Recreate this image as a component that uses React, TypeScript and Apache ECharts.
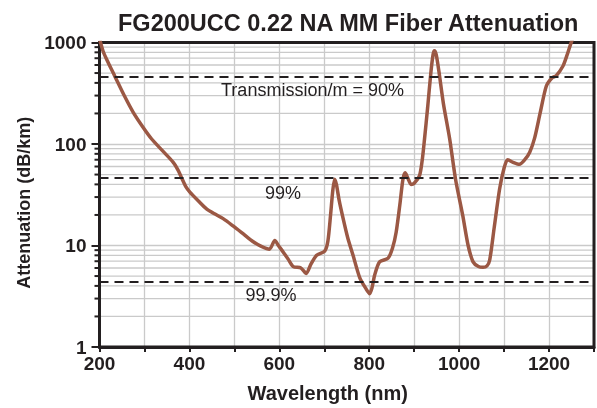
import React, { useEffect, useRef } from 'react';
import * as echarts from 'echarts';

const TITLE = 'FG200UCC 0.22 NA MM Fiber Attenuation';
const X_NAME = 'Wavelength (nm)';
const Y_NAME = 'Attenuation (dB/km)';
const X_MIN = 200;
const X_MAX = 1300;
const X_INTERVAL = 100;
const Y_MIN = 1;
const Y_MAX = 1000;

const wavelengths = [
  201, 208, 216, 234, 255, 275, 296, 316, 340, 364, 375, 383, 392, 401, 420, 438, 456, 475, 497, 520,
  542, 560, 578, 590, 598, 608, 620, 631, 648, 660, 670, 683, 701, 708, 714, 719, 723, 727, 733, 742,
  752, 764, 779, 792, 801, 806, 812, 823, 842, 852, 860, 868, 875, 880, 886, 893, 900, 912, 918, 923,
  930, 937, 942, 945, 949, 955, 965, 979, 992, 1008, 1020, 1031, 1043, 1053, 1062, 1068, 1078, 1090, 1100, 1108,
  1120, 1134, 1146, 1157, 1168, 1180, 1194, 1207, 1216, 1231, 1240, 1249, 1255,
];
const attenuation = [
  1050, 820, 680, 466, 300, 205, 148, 112, 86, 66, 55, 46, 38, 33.6, 27.5, 23, 20.5, 18.4, 15.6, 13,
  10.9, 9.8, 9.2, 11.2, 10, 8.7, 7.3, 6.2, 6.0, 5.3, 6.5, 8.0, 8.8, 11, 20, 35, 45, 40, 28, 18.4,
  12, 8.0, 4.8, 3.8, 3.35, 3.8, 5.1, 6.9, 7.5, 9.5, 13.6, 25, 45, 52, 46, 40, 41, 49, 70, 112,
  230, 500, 760, 830, 760, 520, 250, 112, 45, 19.8, 10, 6.9, 6.2, 6.1, 6.3, 7.2, 15, 36, 58, 70,
  66, 63, 70, 83, 115, 200, 373, 450, 470, 586, 750, 993, 1150,
];

const transmissionLevels = [457.6, 46, 4.4];
const transmissionLabels = ['Transmission/m = 90%', '99%', '99.9%'];
const minorGridValues = [2, 3, 4, 5, 6, 7, 8, 9, 20, 30, 40, 50, 60, 70, 80, 90, 200, 300, 400, 500, 600, 700, 800, 900];

const INK = '#231f20';
const FONT = '"Liberation Sans", Arial, Helvetica, sans-serif';
const GRID_COLOR = '#cacaca';
const CURVE_COLOR = '#9b5844';

export default function App() {
  const ref = useRef<HTMLDivElement>(null);
  useEffect(() => {
    if (!ref.current) return;
    const chart = echarts.init(ref.current, undefined, { renderer: 'svg' });
    const curve = wavelengths.map((w, i) => [w, attenuation[i]]);
    const labelPos = [
      [312.5, 90],
      [283, 193],
      [271, 295],
    ];
    chart.setOption({
      animation: false,
      textStyle: { fontFamily: FONT, color: INK },
      title: {
        text: TITLE,
        left: 113,
        top: 6,
        textStyle: { fontFamily: FONT, fontSize: 23.5, fontWeight: 'bold', color: INK },
      },
      grid: {
        left: 99.5,
        right: 2,
        top: 42.5,
        bottom: 59,
        show: true,
        borderColor: INK,
        borderWidth: 3,
        backgroundColor: 'transparent',
        z: 1,
      },
      xAxis: {
        type: 'value',
        min: X_MIN,
        max: X_MAX,
        interval: X_INTERVAL,
        name: X_NAME,
        nameLocation: 'middle',
        nameGap: 36,
        nameTextStyle: { fontFamily: FONT, fontSize: 20, fontWeight: 'bold', color: INK, padding: [0, 38, 0, 0] },
        axisLine: { show: true, lineStyle: { color: INK, width: 3 } },
        axisTick: { show: true, inside: false, length: 5, lineStyle: { color: INK, width: 2 } },
        axisLabel: {
          margin: 7,
          fontFamily: FONT,
          fontSize: 19,
          fontWeight: 'bold',
          color: INK,
          formatter: (v: number) => (v % 200 === 0 && v < X_MAX ? String(v) : ''),
        },
        splitLine: { show: true, lineStyle: { color: GRID_COLOR, width: 1.3 } },
      },
      yAxis: {
        type: 'log',
        logBase: 10,
        min: Y_MIN,
        max: Y_MAX,
        name: Y_NAME,
        nameLocation: 'middle',
        nameGap: 61,
        nameTextStyle: { fontFamily: FONT, fontSize: 18, fontWeight: 'bold', color: INK, padding: [0, 16, 0, 0] },
        axisLine: { show: true, lineStyle: { color: INK, width: 3 } },
        axisTick: { show: true, inside: false, length: 8, lineStyle: { color: INK, width: 2 } },
        axisLabel: {
          margin: 13,
          fontFamily: FONT,
          fontSize: 19,
          fontWeight: 'bold',
          color: INK,
          formatter: (v: number) => String(Math.round(v)),
        },
        splitLine: { show: true, lineStyle: { color: GRID_COLOR, width: 1.3 } },
      },
      graphic: transmissionLabels.map((t, i) => ({
        type: 'text',
        x: labelPos[i][0],
        y: labelPos[i][1],
        z: 10,
        style: {
          text: t,
          fontFamily: FONT,
          fontSize: 18,
          fill: INK,
          textAlign: 'center',
          textVerticalAlign: 'middle',
        },
      })),
      series: [
        {
          type: 'custom',
          z: 0,
          silent: true,
          data: minorGridValues.map((v) => [X_MIN, v]),
          renderItem: (params: any, api: any) => {
            const pt = api.coord([api.value(0), api.value(1)]);
            const cs = params.coordSys;
            return {
              type: 'group',
              children: [
                {
                  type: 'line',
                  shape: { x1: cs.x, y1: pt[1], x2: cs.x + cs.width, y2: pt[1] },
                  style: { stroke: GRID_COLOR, lineWidth: 1.3 },
                },
                {
                  type: 'line',
                  shape: { x1: cs.x - 5, y1: pt[1], x2: cs.x, y2: pt[1] },
                  style: { stroke: INK, lineWidth: 2 },
                },
              ],
            };
          },
        },
        {
          type: 'line',
          z: 3,
          data: curve,
          smooth: 0.25,
          showSymbol: false,
          symbol: 'none',
          clip: true,
          lineStyle: { color: CURVE_COLOR, width: 3.5 },
          markLine: {
            silent: true,
            symbol: ['none', 'none'],
            label: { show: false },
            lineStyle: { color: INK, width: 2, type: [9, 6], opacity: 1 },
            emphasis: { disabled: true },
            data: transmissionLevels.map((v) => ({ yAxis: v })),
          },
        },
      ],
    });
    return () => chart.dispose();
  }, []);
  return <div ref={ref} style={{ position: 'fixed', left: 0, top: 0, width: 597, height: 408 }} />;
}
